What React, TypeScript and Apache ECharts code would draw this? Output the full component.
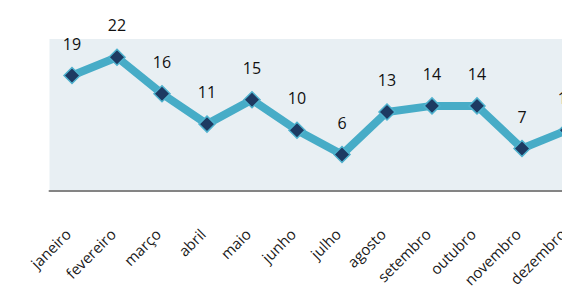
import React, { useEffect, useRef } from "react";
import * as echarts from "echarts";

const months = [
  "janeiro", "fevereiro", "março", "abril", "maio", "junho",
  "julho", "agosto", "setembro", "outubro", "novembro", "dezembro",
];
const values = [19, 22, 16, 11, 15, 10, 6, 13, 14, 14, 7, 10];

export default function App() {
  const ref = useRef<HTMLDivElement>(null);
  useEffect(() => {
    if (!ref.current) return;
    const chart = echarts.init(ref.current, undefined, { renderer: "svg" });
    chart.setOption({
      animation: false,
      grid: {
        left: 49.5,
        top: 39,
        width: 540,
        height: 152,
        show: true,
        backgroundColor: "#E8EFF3",
        borderWidth: 0,
        containLabel: false,
      },
      xAxis: {
        type: "category",
        data: months,
        boundaryGap: true,
        axisLine: { show: true, lineStyle: { color: "#848484", width: 2 } },
        axisTick: { show: false },
        axisLabel: {
          rotate: 45,
          margin: 36,
          padding: [0, 6, 0, 0],
          interval: 0,
          fontSize: 15,
          color: "#1a1a1a",
          fontFamily: "Open Sans",
        },
      },
      yAxis: {
        type: "value",
        min: 0,
        max: 25,
        show: false,
        splitLine: { show: false },
      },
      series: [
        {
          type: "line",
          data: values,
          symbol: "diamond",
          symbolSize: 16,
          lineStyle: { color: "#47ACC7", width: 8 },
          itemStyle: { color: "#1D3A62", borderColor: "#4FB2CE", borderWidth: 1.5 },
          label: {
            show: true,
            position: "top",
            distance: 15,
            fontSize: 16,
            color: "#111",
            fontFamily: "Open Sans",
          },
        },
      ],
    });
    return () => chart.dispose();
  }, []);
  return (
    <div style={{ position: "fixed", left: 0, top: 0, width: 562, height: 290, overflow: "hidden", background: "#fff" }}>
      <div ref={ref} style={{ width: 640, height: 290 }} />
    </div>
  );
}
